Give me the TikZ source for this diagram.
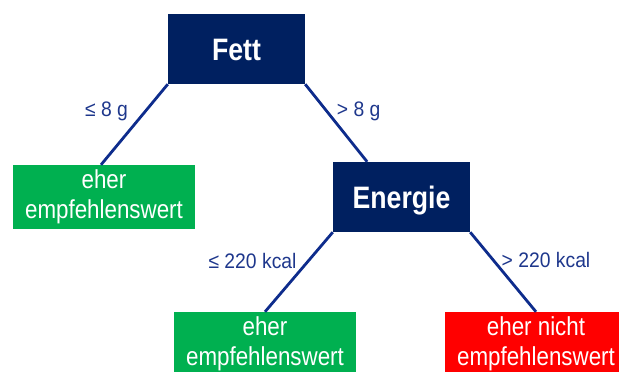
\documentclass[tikz,border=0pt]{standalone}
\usepackage{fontspec}
\setmainfont{Liberation Sans}
\newfontfamily\headfont[FakeStretch=0.86]{Liberation Sans}
\newfontfamily\leaffont[FakeStretch=0.86]{Liberation Sans}
\newfontfamily\condfont[FakeStretch=0.92]{Liberation Sans}
\usetikzlibrary{calc}
\definecolor{navy}{RGB}{0,32,96}
\definecolor{leafgreen}{RGB}{0,176,80}
\definecolor{leafred}{RGB}{255,0,0}
\definecolor{edgeblue}{RGB}{14,44,140}
\definecolor{labelblue}{RGB}{30,55,140}
\begin{document}
\begin{tikzpicture}[x=1pt,y=-1pt,
 headbox/.style={fill=navy,text=white,minimum width=137pt,minimum height=70pt,inner sep=0pt,font=\headfont\bfseries\fontsize{31}{36}\selectfont,text height=22pt,text depth=0pt},
 leafbox/.style={text=white,minimum width=182pt,minimum height=64pt,inner sep=0pt,align=center,font=\leaffont\fontsize{26}{30}\selectfont},
 edge/.style={draw=edgeblue,line width=2.8pt},
 cond/.style={text=labelblue,font=\condfont\fontsize{21}{25}\selectfont,anchor=base,inner sep=0pt}]
\useasboundingbox (0,0) rectangle (619,372);
\clip (0,0) rectangle (619,372);
\node[headbox] (fett) at (236.5,49) {Fett};
\node[leafbox,fill=leafgreen] (lg) at (104,197) {eher\\empfehlenswert};
\node[headbox] (en) at (401.5,197) {Energie};
\node[leafbox,fill=leafgreen] (bg) at (265,344) {eher\\empfehlenswert};
\node[leafbox,fill=leafred] (rd) at (536,344) {eher nicht\\empfehlenswert};
\coordinate (lgin) at ($(lg.north)+(-3,0)$);
\coordinate (enin) at ($(en.north west)!0.25!(en.north east)$);
\draw[edge] (fett.south west) -- (lgin);
\draw[edge] (fett.south east) -- (enin);
\draw[edge] (en.south west) -- (bg.north);
\draw[edge] (en.south east) -- (rd.north);
\node[cond] (l1) at (106.5,116.5) {≤ 8 g};
\node[cond] (l2) at (358.7,116) {> 8 g};
\node[cond] (l3) at (252.5,268) {≤ 220 kcal};
\node[cond] (l4) at (546,267) {> 220 kcal};
\end{tikzpicture}
\end{document}
